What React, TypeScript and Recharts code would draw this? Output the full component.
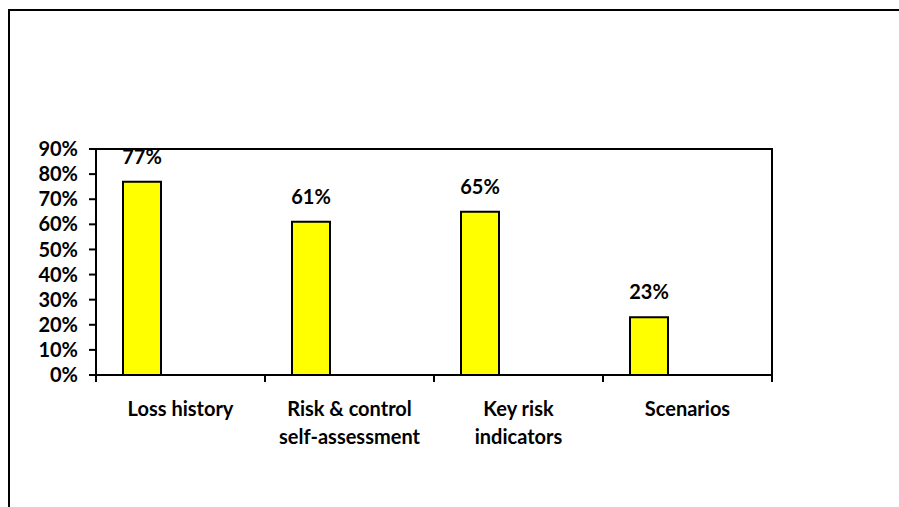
import {
  Bar,
  BarChart,
  LabelList,
  ReferenceArea,
  XAxis,
  YAxis,
} from 'recharts';

const categories = [
  'Loss history',
  'Risk & control self-assessment',
  'Key risk indicators',
  'Scenarios',
];
const tickLabelLines = [
  ['Loss history'],
  ['Risk & control', 'self-assessment'],
  ['Key risk', 'indicators'],
  ['Scenarios'],
];
const usageShares = [77, 61, 65, 23];
const yTicks = [0, 10, 20, 30, 40, 50, 60, 70, 80, 90];

// the two empty series keep the bars sitting on the left of each category
const data = categories.map((name, i) => ({
  name,
  share: usageShares[i],
  spacerA: null,
  spacerB: null,
}));

const FONT = 'Lato, "DejaVu Sans", sans-serif';

function CategoryTick(props: any) {
  const { x, y, width, payload, index, visibleTicksCount } = props;
  const half = width / (2 * visibleTicksCount);
  const lines = tickLabelLines[payload.index ?? index] ?? [String(payload.value)];
  return (
    <g>
      <line x1={x - half} x2={x - half} y1={y} y2={y + 7} stroke='#000' strokeWidth={2} />
      {index === visibleTicksCount - 1 && (
        <line x1={x + half} x2={x + half} y1={y} y2={y + 7} stroke='#000' strokeWidth={2} />
      )}
      {lines.map((line, i) => (
        <text
          key={line}
          x={x}
          y={y + 41 + i * 28}
          textAnchor='middle'
          fontFamily={FONT}
          fontWeight={700}
          fontSize={20}
          fill='#000'
        >
          {line}
        </text>
      ))}
    </g>
  );
}

export default function App() {
  return (
    <div
      style={{
        position: 'fixed',
        left: 8,
        top: 9,
        width: 900,
        height: 510,
        borderTop: '2px solid #000',
        borderLeft: '2px solid #000',
        background: '#fff',
      }}
    >
      <BarChart
        width={880}
        height={490}
        data={data}
        margin={{ top: 138, right: 118, bottom: 46, left: 0 }}
        barCategoryGap={27}
        barGap={0}
      >
        <XAxis
          dataKey='name'
          height={80}
          tickLine={false}
          tickSize={0}
          tickMargin={0}
          axisLine={{ stroke: '#000', strokeWidth: 2 }}
          tick={<CategoryTick />}
          interval={0}
        />
        <YAxis
          width={86}
          domain={[0, 90]}
          ticks={yTicks}
          tickFormatter={(v) => `${v}%`}
          tickSize={7}
          tickMargin={11}
          axisLine={{ stroke: '#000', strokeWidth: 2 }}
          tickLine={{ stroke: '#000', strokeWidth: 2 }}
          tick={{ fill: '#000', fontFamily: FONT, fontWeight: 700, fontSize: 20 }}
          interval={0}
        />
        <ReferenceArea
          y1={0}
          y2={90}
          fill='none'
          stroke='#000'
          strokeWidth={2}
          ifOverflow='visible'
        />
        <Bar
          dataKey='share'
          fill='#ffff00'
          stroke='#000'
          strokeWidth={2}
          isAnimationActive={false}
        >
          <LabelList
            dataKey='share'
            position='top'
            offset={18}
            formatter={(v: any) => `${v}%`}
            fill='#000'
            fontFamily={FONT}
            fontWeight={700}
            fontSize={20}
          />
        </Bar>
        <Bar dataKey='spacerA' isAnimationActive={false} />
        <Bar dataKey='spacerB' isAnimationActive={false} />
      </BarChart>
    </div>
  );
}
